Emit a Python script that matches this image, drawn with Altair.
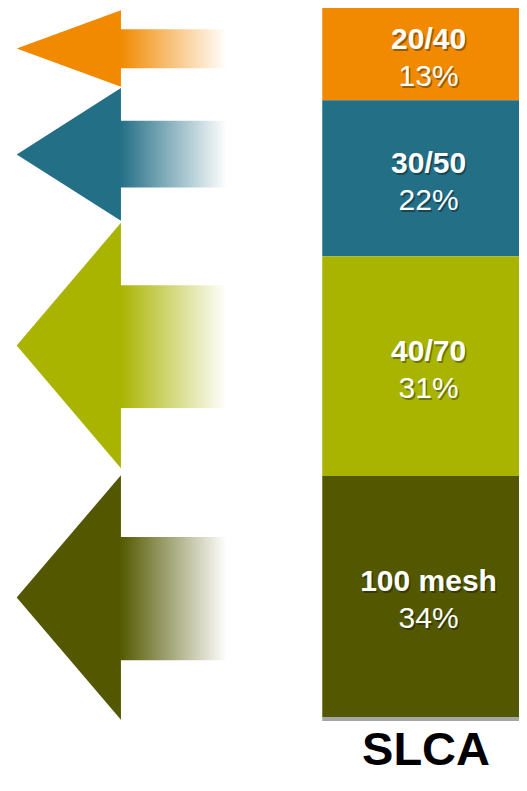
import altair as alt
import pandas as pd

# ---- data ----
categories = ["20/40", "30/50", "40/70", "100 mesh"]
shares = [13, 22, 31, 34]
pct_labels = ["13%", "22%", "31%", "34%"]
colors = ["#F18A00", "#236F86", "#A9B400", "#535800"]
group_label = "SLCA"

# arrow geometry, in the same percent units as the stacked bar (0 = top)
head_top = [0.3, 11.3, 30.3, 65.9]
head_bottom = [11.1, 30.0, 64.9, 100.4]
tail_top = [3.0, 15.9, 39.1, 74.6]
tail_bottom = [8.5, 25.3, 56.4, 92.0]

# horizontal layout units (0..100 across the chart)
x_tip, x_neck, x_tail_end = 1.7, 22.1, 42.8
bar_x0, bar_x1 = 61.5, 100.0
label_x = 82.3
title_x = 81.8
title_y = 106.8

W, H = 511, 768
X = alt.Scale(domain=[0, 100])
Y = alt.Scale(domain=[0, H / 7.09], reverse=True)
font = "Liberation Sans"

# ---- tables ----
ends = pd.Series(shares).cumsum()
bar_df = pd.DataFrame({
    "cat": categories,
    "share": shares,
    "pct": pct_labels,
    "start": ends - pd.Series(shares),
    "end": ends,
})
bar_df["mid"] = (bar_df["start"] + bar_df["end"]) / 2

head_rows = []
for c, t, b in zip(categories, head_top, head_bottom):
    m = (t + b) / 2
    head_rows.append({"cat": c, "x": x_tip, "y": m, "y2": m})
    head_rows.append({"cat": c, "x": x_neck, "y": t, "y2": b})
head_df = pd.DataFrame(head_rows)

color_scale = alt.Scale(domain=categories, range=colors)

# ---- layers ----
heads = alt.Chart(head_df).mark_area(orient="vertical").encode(
    x=alt.X("x:Q", scale=X, axis=None),
    y=alt.Y("y:Q", scale=Y, axis=None),
    y2="y2:Q",
    color=alt.Color("cat:N", scale=color_scale, legend=None),
)

tails = []
for i, c in enumerate(categories):
    tdf = pd.DataFrame({"x": [x_neck - 0.15], "x2": [x_tail_end],
                        "y": [tail_top[i]], "y2": [tail_bottom[i]]})
    grad = alt.Gradient(
        gradient="linear",
        stops=[alt.GradientStop(color=colors[i], offset=0),
               alt.GradientStop(color="#ffffff", offset=1)],
        x1=0, x2=1, y1=0, y2=0,
    )
    tails.append(
        alt.Chart(tdf).mark_rect(color=grad).encode(
            x=alt.X("x:Q", scale=X, axis=None), x2="x2:Q",
            y=alt.Y("y:Q", scale=Y, axis=None), y2="y2:Q",
        )
    )

bars = alt.Chart(bar_df).mark_rect().encode(
    x=alt.datum(bar_x0, scale=X, axis=None),
    x2=alt.datum(bar_x1),
    y=alt.Y("start:Q", scale=Y, axis=None),
    y2="end:Q",
    color=alt.Color("cat:N", scale=color_scale, legend=None),
)

baseline = alt.Chart(bar_df).transform_aggregate(total="sum(share)").mark_rule(
    color="#A6A6A6", strokeWidth=4, yOffset=2
).encode(
    x=alt.datum(bar_x0, scale=X, axis=None),
    x2=alt.datum(bar_x1),
    y=alt.Y("total:Q", scale=Y, axis=None),
)

def txt(field, weight, dy, color="white", opacity=1.0, off=0.0):
    return alt.Chart(bar_df).mark_text(
        font=font, fontSize=30, fontWeight=weight, color=color, opacity=opacity,
        baseline="middle", align="center", dy=dy + off, dx=off,
    ).encode(
        x=alt.datum(label_x, scale=X, axis=None),
        y=alt.Y("mid:Q", scale=Y, axis=None),
        text=f"{field}:N",
    )

shadow_cat = txt("cat", "bold", -14, color="black", opacity=0.35, off=1.5)
shadow_pct = txt("pct", "normal", 23, color="black", opacity=0.35, off=1.5)
text_cat = txt("cat", "bold", -14)
text_pct = txt("pct", "normal", 23)

title = alt.Chart(pd.DataFrame({"t": [group_label], "y": [title_y]})).mark_text(
    font=font, fontSize=47, fontWeight="bold", color="black",
    baseline="alphabetic", align="center",
).encode(
    x=alt.datum(title_x, scale=X, axis=None),
    y=alt.Y("y:Q", scale=Y, axis=None),
    text="t:N",
)

chart = alt.layer(
    heads, *tails, bars, baseline, shadow_cat, shadow_pct, text_cat, text_pct, title
).properties(
    width=W, height=H, padding=0,
    autosize=alt.AutoSizeParams(type="none"),
).configure_view(stroke=None)

chart.save("out.html", embed_options={"renderer": "svg", "actions": False})
